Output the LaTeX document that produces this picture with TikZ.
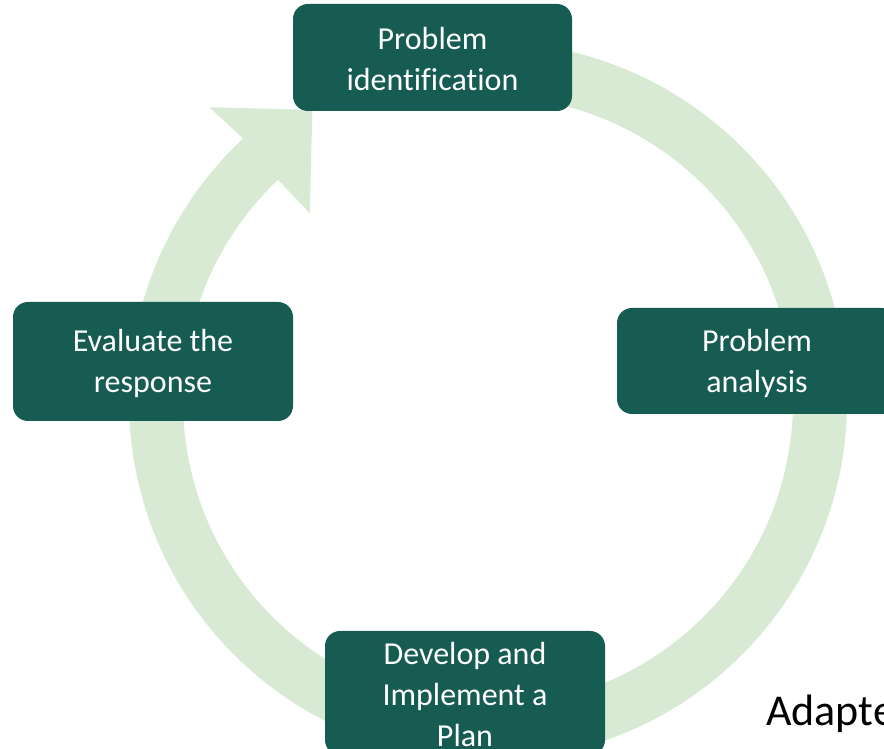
\documentclass[tikz,border=0pt]{standalone}
\usepackage{fontspec}
\setmainfont[Ligatures=CommonOff]{Carlito}
\definecolor{boxteal}{RGB}{23,92,83}
\definecolor{ringgreen}{RGB}{216,234,211}
\tikzset{
  stagebox/.style={fill=boxteal, rounded corners=15pt, text=white, align=center,
    inner sep=0pt, font=\fontsize{32}{41}\selectfont},
}
\begin{document}
\begin{tikzpicture}[x=1pt,y=1pt]
\useasboundingbox (0,0) rectangle (884,749);
\clip (0,0) rectangle (884,749);
% ring arrow
\begin{scope}[shift={(488,348)}]
\fill[ringgreen]
  (95:359pt) arc[start angle=95, end angle=-227, radius=359pt]
  -- (133.5:405pt)
  -- ([shift={(43.5:73pt)}]133.5:332pt)
  -- (133.5:259pt)
  -- (133.5:305pt) arc[start angle=133.5, end angle=455, radius=305pt]
  -- cycle;
\end{scope}
% boxes
\node[stagebox, minimum width=279pt, minimum height=107pt] (ident) at (432.5,691.5) {};
\node[text=white, align=center, font=\fontsize{32}{41}\selectfont] (identtxt) at (432.5,689.5) {Problem\\identification};
\node[stagebox, minimum width=280pt, minimum height=106pt] (anal) at (757,388) {};
\node[text=white, align=center, font=\fontsize{32}{41}\selectfont] (analtxt) at (757,386) {Problem\\analysis};
\node[stagebox, minimum width=280pt, minimum height=124pt] (plan) at (465,56) {};
\node[text=white, align=center, font=\fontsize{32}{41}\selectfont] (plantxt) at (465,54) {Develop and\\Implement a\\Plan};
\node[stagebox, minimum width=280pt, minimum height=119pt] (eval) at (153,387.5) {};
\node[text=white, align=center, font=\fontsize{32}{41}\selectfont] (evaltxt) at (153,385.5) {Evaluate the\\response};
% caption
\node[anchor=base west, inner sep=0pt, font=\fontsize{44}{52}\selectfont] (adapt) at (766,23) {Adapte};
\end{tikzpicture}
\end{document}
